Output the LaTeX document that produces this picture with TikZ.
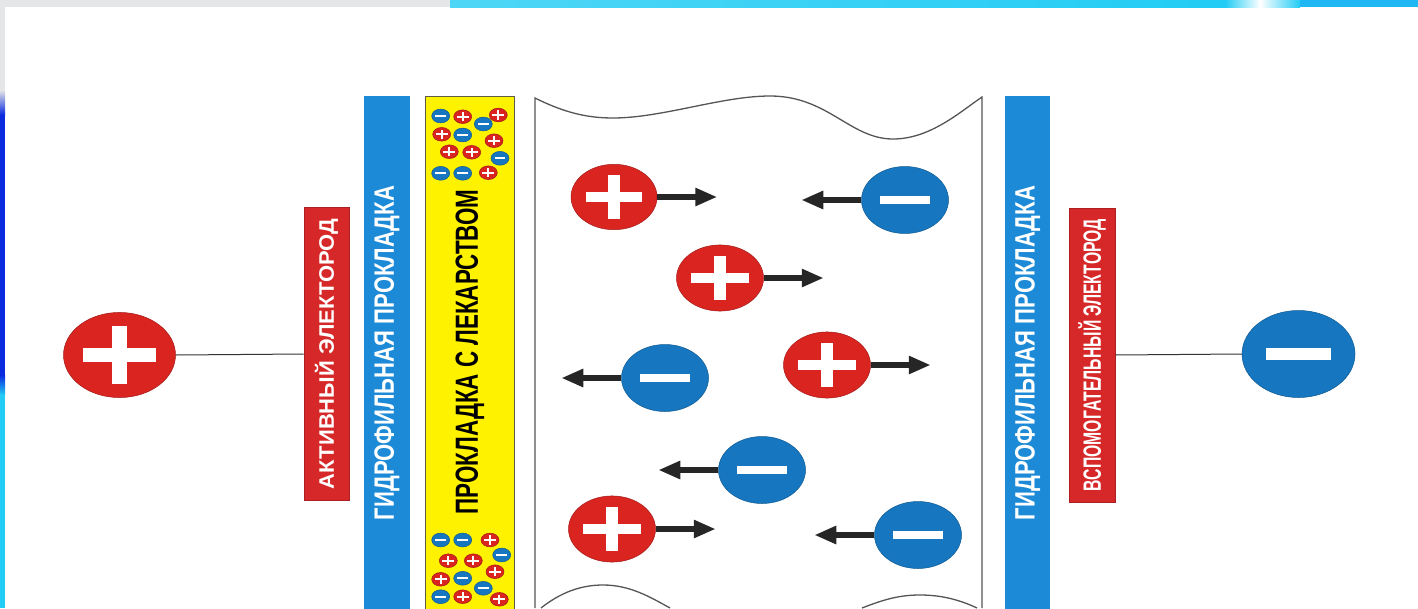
\documentclass[tikz,border=0pt]{standalone}
\usepackage{fontspec}
\setmainfont{Liberation Sans}
\usetikzlibrary{shapes.geometric,arrows.meta}

\definecolor{ionred}{HTML}{DA2420}
\definecolor{ionblue}{HTML}{1677C0}
\definecolor{stripblue}{HTML}{1C8AD6}
\definecolor{labelred}{HTML}{D62828}
\definecolor{padyellow}{HTML}{FFF200}
\definecolor{slidegray}{HTML}{E4E6E8}
\definecolor{slidecyan}{HTML}{22CCF4}
\definecolor{slideblue}{HTML}{0A2AE0}
\definecolor{wavegray}{HTML}{555555}

% text stretched or squeezed to a given length, keeping its height
\newcommand\fittext[3]{\resizebox{#1}{\height}{\fontsize{#2}{#2}\selectfont\bfseries #3}}

\begin{document}
\begin{tikzpicture}[x=1pt,y=-1pt,
  cation/.style={ellipse, inner sep=0pt, fill=ionred, draw=ionred!75!black, line width=0.5pt,
    minimum width=#1pt, minimum height=0.76*#1pt,
    path picture={
      \fill[white] ([shift={(-0.33*#1,-0.062*#1)}]path picture bounding box.center)
        rectangle ([shift={(0.33*#1,0.062*#1)}]path picture bounding box.center);
      \fill[white] ([shift={(-0.066*#1,-0.255*#1)}]path picture bounding box.center)
        rectangle ([shift={(0.066*#1,0.255*#1)}]path picture bounding box.center);
    }},
  anion/.style={ellipse, inner sep=0pt, fill=ionblue, draw=ionblue!75!black, line width=0.5pt,
    minimum width=#1pt, minimum height=0.77*#1pt,
    path picture={
      \fill[white] ([shift={(-0.29*#1,-0.05*#1)}]path picture bounding box.center)
        rectangle ([shift={(0.29*#1,0.05*#1)}]path picture bounding box.center);
    }},
  ionarrow/.style={draw=black!85, line width=6.5pt, -{Triangle[length=22pt,width=17pt]}},
  lead/.style={draw=black!80, line width=1pt},
  wave/.style={draw=wavegray, line width=1.3pt},
  redlabel/.style={rotate=90, fill=labelred, draw=labelred!80!black, line width=0.6pt,
    inner sep=0pt, text=white, anchor=center},
  striptext/.style={rotate=90, inner sep=0pt, text=white},
  padtext/.style={rotate=90, inner sep=0pt, text=black},
]
\useasboundingbox (0,0) rectangle (1418,608);

% slide background
\fill[white] (0,0) rectangle (1418,608);
\fill[slidegray] (0,0) rectangle (450,7);
\shade[left color=slidecyan!80!white, right color=slidecyan] (450,0) rectangle (1225,7);
\shade[left color=slidecyan, right color=white] (1225,0) rectangle (1260,7);
\shade[left color=white, right color=slidecyan] (1260,0) rectangle (1300,7);
\fill[slidecyan!90!blue] (1300,0) rectangle (1418,7);
\fill[slidegray] (0,0) rectangle (5,90);
\shade[top color=slidegray, bottom color=slideblue] (0,90) rectangle (5,115);
\fill[slideblue] (0,115) rectangle (5,375);
\shade[top color=slideblue, bottom color=slidecyan] (0,375) rectangle (5,395);
\fill[slidecyan] (0,395) rectangle (5,608);

% hydrophilic pads and drug pad
\fill[stripblue] (364,96) rectangle (410,612);
\fill[stripblue] (1005,96) rectangle (1050,612);
\filldraw[fill=padyellow, draw=black!65!yellow!80!black, line width=1pt] (425,96) rectangle (514,614);

% tissue section
\draw[wave] (535,608) -- (535,98)
  .. controls (565,113) and (588,118) .. (613,118)
  .. controls (662,118) and (722,96) .. (770,96)
  .. controls (828,96) and (850,139) .. (893,139)
  .. controls (930,139) and (960,112) .. (982,97) -- (982,608);
\draw[wave] (541,608) .. controls (560,593) and (580,585) .. (603,585)
  .. controls (630,585) and (650,597) .. (670,608);
\draw[wave] (862,608) .. controls (885,599) and (900,595) .. (920,595)
  .. controls (942,595) and (960,600) .. (977,608);

% labels
\node[redlabel, minimum width=293pt, minimum height=45pt] (act) at (326.5,354)
  {\fittext{270pt}{21pt}{АКТИВНЫЙ ЭЛЕКТОРОД}};
\node[redlabel, minimum width=294pt, minimum height=46pt] (aux) at (1092,355)
  {\fittext{272pt}{25pt}{ВСПОМОГАТЕЛЬНЫЙ ЭЛЕКТОРОД}};
\node[striptext] (hydroL) at (387,353) {\fittext{334pt}{28pt}{ГИДРОФИЛЬНАЯ ПРОКЛАДКА}};
\node[striptext] (hydroR) at (1027.5,353) {\fittext{334pt}{28pt}{ГИДРОФИЛЬНАЯ ПРОКЛАДКА}};
\node[padtext] (drug) at (470,352) {\fittext{325pt}{32pt}{ПРОКЛАДКА С ЛЕКАРСТВОМ}};

% electrodes
\node[cation=112] (plus) at (119.5,355) {};
\node[anion=113] (minus) at (1298.5,354) {};
\draw[lead] (plus.east) -- (act.north);
\draw[lead] (aux.south) -- (minus.west);

% drug ions in the pad
\foreach \n/\px/\py in {a1/440.7/116, a2/483.3/124, a3/462.7/135, a4/500/158.3,
    a5/440.7/173.3, a6/462.7/173.3,
    b1/440.7/540, b2/462.7/540, b3/501.7/555, b4/462.7/578.3, b5/440.7/596.7, b6/483.3/588.3}
  \node[anion=18] (\n) at (\px,\py) {};
\foreach \n/\px/\py in {c1/462.7/116.7, c2/498.3/115, c3/441.7/134.3, c4/494/140.7,
    c5/449.3/151.7, c6/471.7/152.3, c7/488.3/172.7,
    d1/490/540, d2/448.3/560.7, d3/473.3/560.7, d4/440.7/579.3, d5/495/571.7,
    d6/462.7/596.7, d7/499.3/599.3}
  \node[cation=18] (\n) at (\px,\py) {};

% migrating ions
\node[cation=86] (p1) at (614,197) {};
\node[cation=87] (p2) at (720,278) {};
\node[cation=87] (p3) at (827,365) {};
\node[cation=87] (p4) at (612,529) {};
\node[anion=87] (n1) at (905,200) {};
\node[anion=87] (n2) at (665,378) {};
\node[anion=87] (n3) at (762,470) {};
\node[anion=87] (n4) at (918,535) {};

\draw[ionarrow] (p1.east) -- ++(60,0);
\draw[ionarrow] (p2.east) -- ++(60,0);
\draw[ionarrow] (p3.east) -- ++(60,0);
\draw[ionarrow] (p4.east) -- ++(60,0);
\draw[ionarrow] (n1.west) -- ++(-60,0);
\draw[ionarrow] (n2.west) -- ++(-60,0);
\draw[ionarrow] (n3.west) -- ++(-60,0);
\draw[ionarrow] (n4.west) -- ++(-60,0);
\end{tikzpicture}
\end{document}
